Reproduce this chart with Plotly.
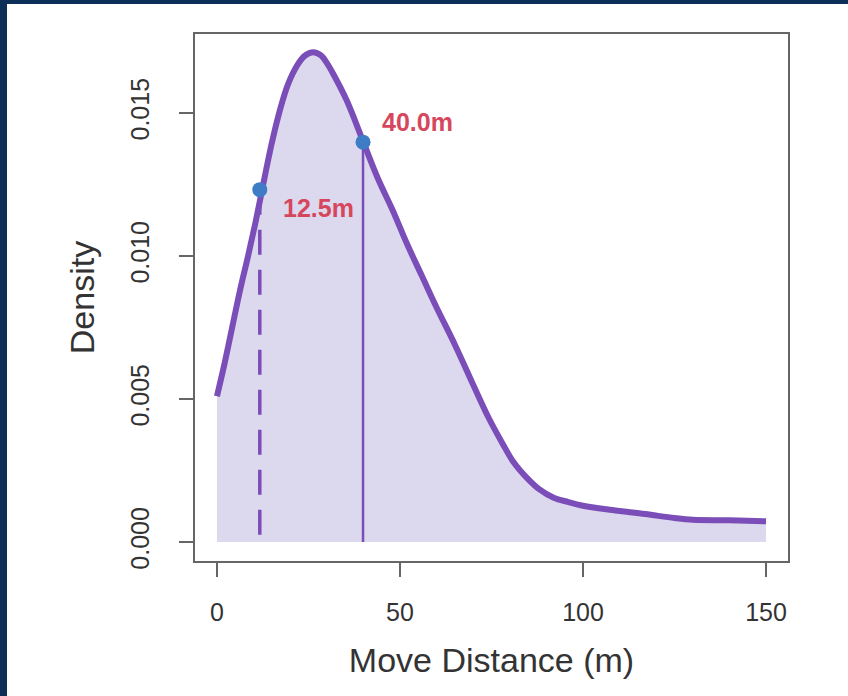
import plotly.graph_objects as go

# Density curve
distance_m = [0, 2, 3.5, 6.3, 8.5, 10.4, 12, 14.9, 17.2, 19.4, 22, 24, 26.3, 28.5, 30, 31.7, 35.4,
              40, 44, 48, 52, 56, 60, 65, 70, 74, 78, 81, 85, 88, 92, 96, 100, 108,
              117, 125, 130, 140, 150]
density = [0.0051, 0.0062, 0.0071, 0.0088, 0.0100, 0.0111, 0.0121, 0.0139, 0.0151, 0.0160,
           0.01668, 0.01700, 0.01712, 0.01700, 0.01675, 0.01638, 0.01545, 0.01398, 0.0127,
           0.0116, 0.0104, 0.0093, 0.0082, 0.0069, 0.0055, 0.0044, 0.00345, 0.0028, 0.0022,
           0.00185, 0.00155, 0.0014, 0.00127, 0.00112, 0.00098, 0.00084, 0.00078, 0.00076, 0.00073]

# Highlighted distances
marker_x = [11.7, 39.9]
marker_y = [0.01232, 0.01398]
marker_labels = ["12.5m", "40.0m"]
marker_dash = ["25px,15px", "solid"]
marker_lw = [3.5, 2.5]

x_ticks = [0, 50, 100, 150]
x_tick_text = ["0", "50", "100", "150"]
y_ticks = [0.0, 0.005, 0.010, 0.015]
y_tick_text = ["0.000", "0.005", "0.010", "0.015"]

PURPLE = "#7A4DB8"
FILL = "#DCD8EE"
DOT = "#3E7CC6"
LABEL = "#D6475E"
NAVY = "#0B2F57"
FONT = "Liberation Sans, Arial, sans-serif"

fig = go.Figure()

# shaded area
fig.add_trace(go.Scatter(x=distance_m, y=density, mode="lines", line=dict(width=0, shape="spline"),
                         fill="tozeroy", fillcolor=FILL, hoverinfo="skip", showlegend=False))

# vertical reference lines
for xv, yv, d, lw in zip(marker_x, marker_y, marker_dash, marker_lw):
    fig.add_trace(go.Scatter(x=[xv, xv], y=[yv, 0], mode="lines",
                             line=dict(color=PURPLE, width=lw, dash=d), showlegend=False))

# curve
fig.add_trace(go.Scatter(x=distance_m, y=density, mode="lines",
                         line=dict(color=PURPLE, width=6, shape="spline", smoothing=1.0),
                         showlegend=False))

# dots
fig.add_trace(go.Scatter(x=marker_x, y=marker_y, mode="markers",
                         marker=dict(color=DOT, size=15), showlegend=False))

# labels
for xv, yv, t, (dx, dy) in zip(marker_x, marker_y, marker_labels, [(16.0, -0.00065), (15.0, 0.00072)]):
    fig.add_annotation(x=xv + dx, y=yv + dy, text="<b>%s</b>" % t, showarrow=False,
                       font=dict(family=FONT, size=25, color=LABEL), xanchor="center", yanchor="middle")

axis_common = dict(showline=True, linecolor="#666666", linewidth=1.6, mirror=True,
                   ticks="outside", ticklen=14, tickwidth=1.6, tickcolor="#666666",
                   showgrid=False, zeroline=False,
                   tickfont=dict(family=FONT, size=25, color="#333333"))

fig.update_xaxes(range=[-6, 156], tickvals=x_ticks, ticktext=x_tick_text,
                 title=dict(text="Move Distance (m)", font=dict(family=FONT, size=34, color="#333333"),
                            standoff=23),
                 ticklabelstandoff=14, **axis_common)
fig.update_yaxes(range=[-0.00066, 0.01776], tickvals=y_ticks, ticktext=y_tick_text, tickangle=-90,
                 title=dict(text="Density", font=dict(family=FONT, size=34, color="#333333"),
                            standoff=21),
                 ticklabelstandoff=20, **axis_common)

# navy frame (top and left edges)
W, H = 848, 696
L, R, T, B = 195, 60, 34, 135
pw, ph = W - L - R, H - T - B
def px(xp):
    return (xp - L) / pw
def py(yp):
    return (H - B - yp) / ph
fig.add_shape(type="rect", xref="paper", yref="paper", x0=px(0), x1=px(W), y0=py(4), y1=py(0),
              fillcolor=NAVY, line=dict(width=0), layer="above")
fig.add_shape(type="rect", xref="paper", yref="paper", x0=px(0), x1=px(7), y0=py(H), y1=py(0),
              fillcolor=NAVY, line=dict(width=0), layer="above")

fig.update_layout(width=W, height=H, margin=dict(l=L, r=R, t=T, b=B, autoexpand=False),
                  plot_bgcolor="white", paper_bgcolor="white",
                  font=dict(family=FONT, color="#333333"))

fig.write_html("out.html")
